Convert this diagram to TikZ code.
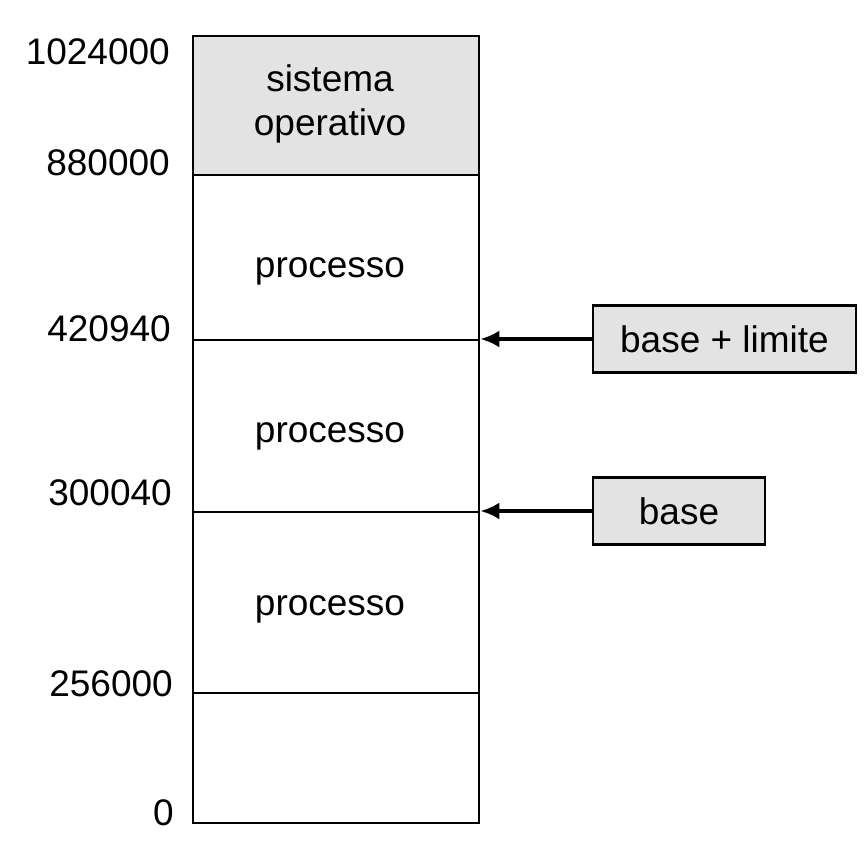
\documentclass[tikz,border=0pt]{standalone}
\usepackage{fontspec}
\setmainfont{Liberation Sans}
\usetikzlibrary{arrows.meta}
\begin{document}
\begin{tikzpicture}[x=1pt,y=-1pt,
  every node/.style={font=\fontsize{37}{44}\selectfont},
  part/.style={draw=black,line width=2.3pt,minimum width=286pt,inner sep=0pt,anchor=north west},
  shade/.style={fill=black!11},
  regbox/.style={draw=black,line width=2.3pt,fill=black!11,inner sep=0pt,minimum height=67pt},
  addr/.style={anchor=base east,inner sep=0pt},
  lbl/.style={anchor=base,inner sep=0pt},
  arr/.style={line width=4pt,-{Latex[length=19pt,width=17pt]}}
]
\useasboundingbox (0,0) rectangle (868,846);
% memory partitions
\node[part,shade,minimum height=139pt] (os) at (192,35) {};
\node[part,minimum height=165pt] (pA) at (192,174) {};
\node[part,minimum height=172pt] (pB) at (192,339) {};
\node[part,minimum height=181pt] (pC) at (192,511) {};
\node[part,minimum height=130pt] (fr) at (192,692) {};
% texts inside
\node[lbl] (t1) at (330,91) {sistema};
\node[lbl] (t2) at (330,135) {operativo};
\node[lbl] (t3) at (330,277) {processo};
\node[lbl] (t4) at (330,442) {processo};
\node[lbl] (t5) at (330,615) {processo};
% addresses
\node[addr] (a1) at (170,64) {1024000};
\node[addr] (a2) at (170,175) {880000};
\node[addr] (a3) at (171,341) {420940};
\node[addr] (a4) at (172,505) {300040};
\node[addr] (a5) at (173,696) {256000};
\node[addr] (a6) at (174,825) {0};
% registers
\node[regbox,minimum width=263pt] (bl) at (724.5,339) {base + limite};
\node[regbox,minimum width=172pt] (bb) at (679,511) {base};
% arrows
\draw[arr] (bl.west) -- (pB.north east);
\draw[arr] (bb.west) -- (pC.north east);
\end{tikzpicture}
\end{document}
